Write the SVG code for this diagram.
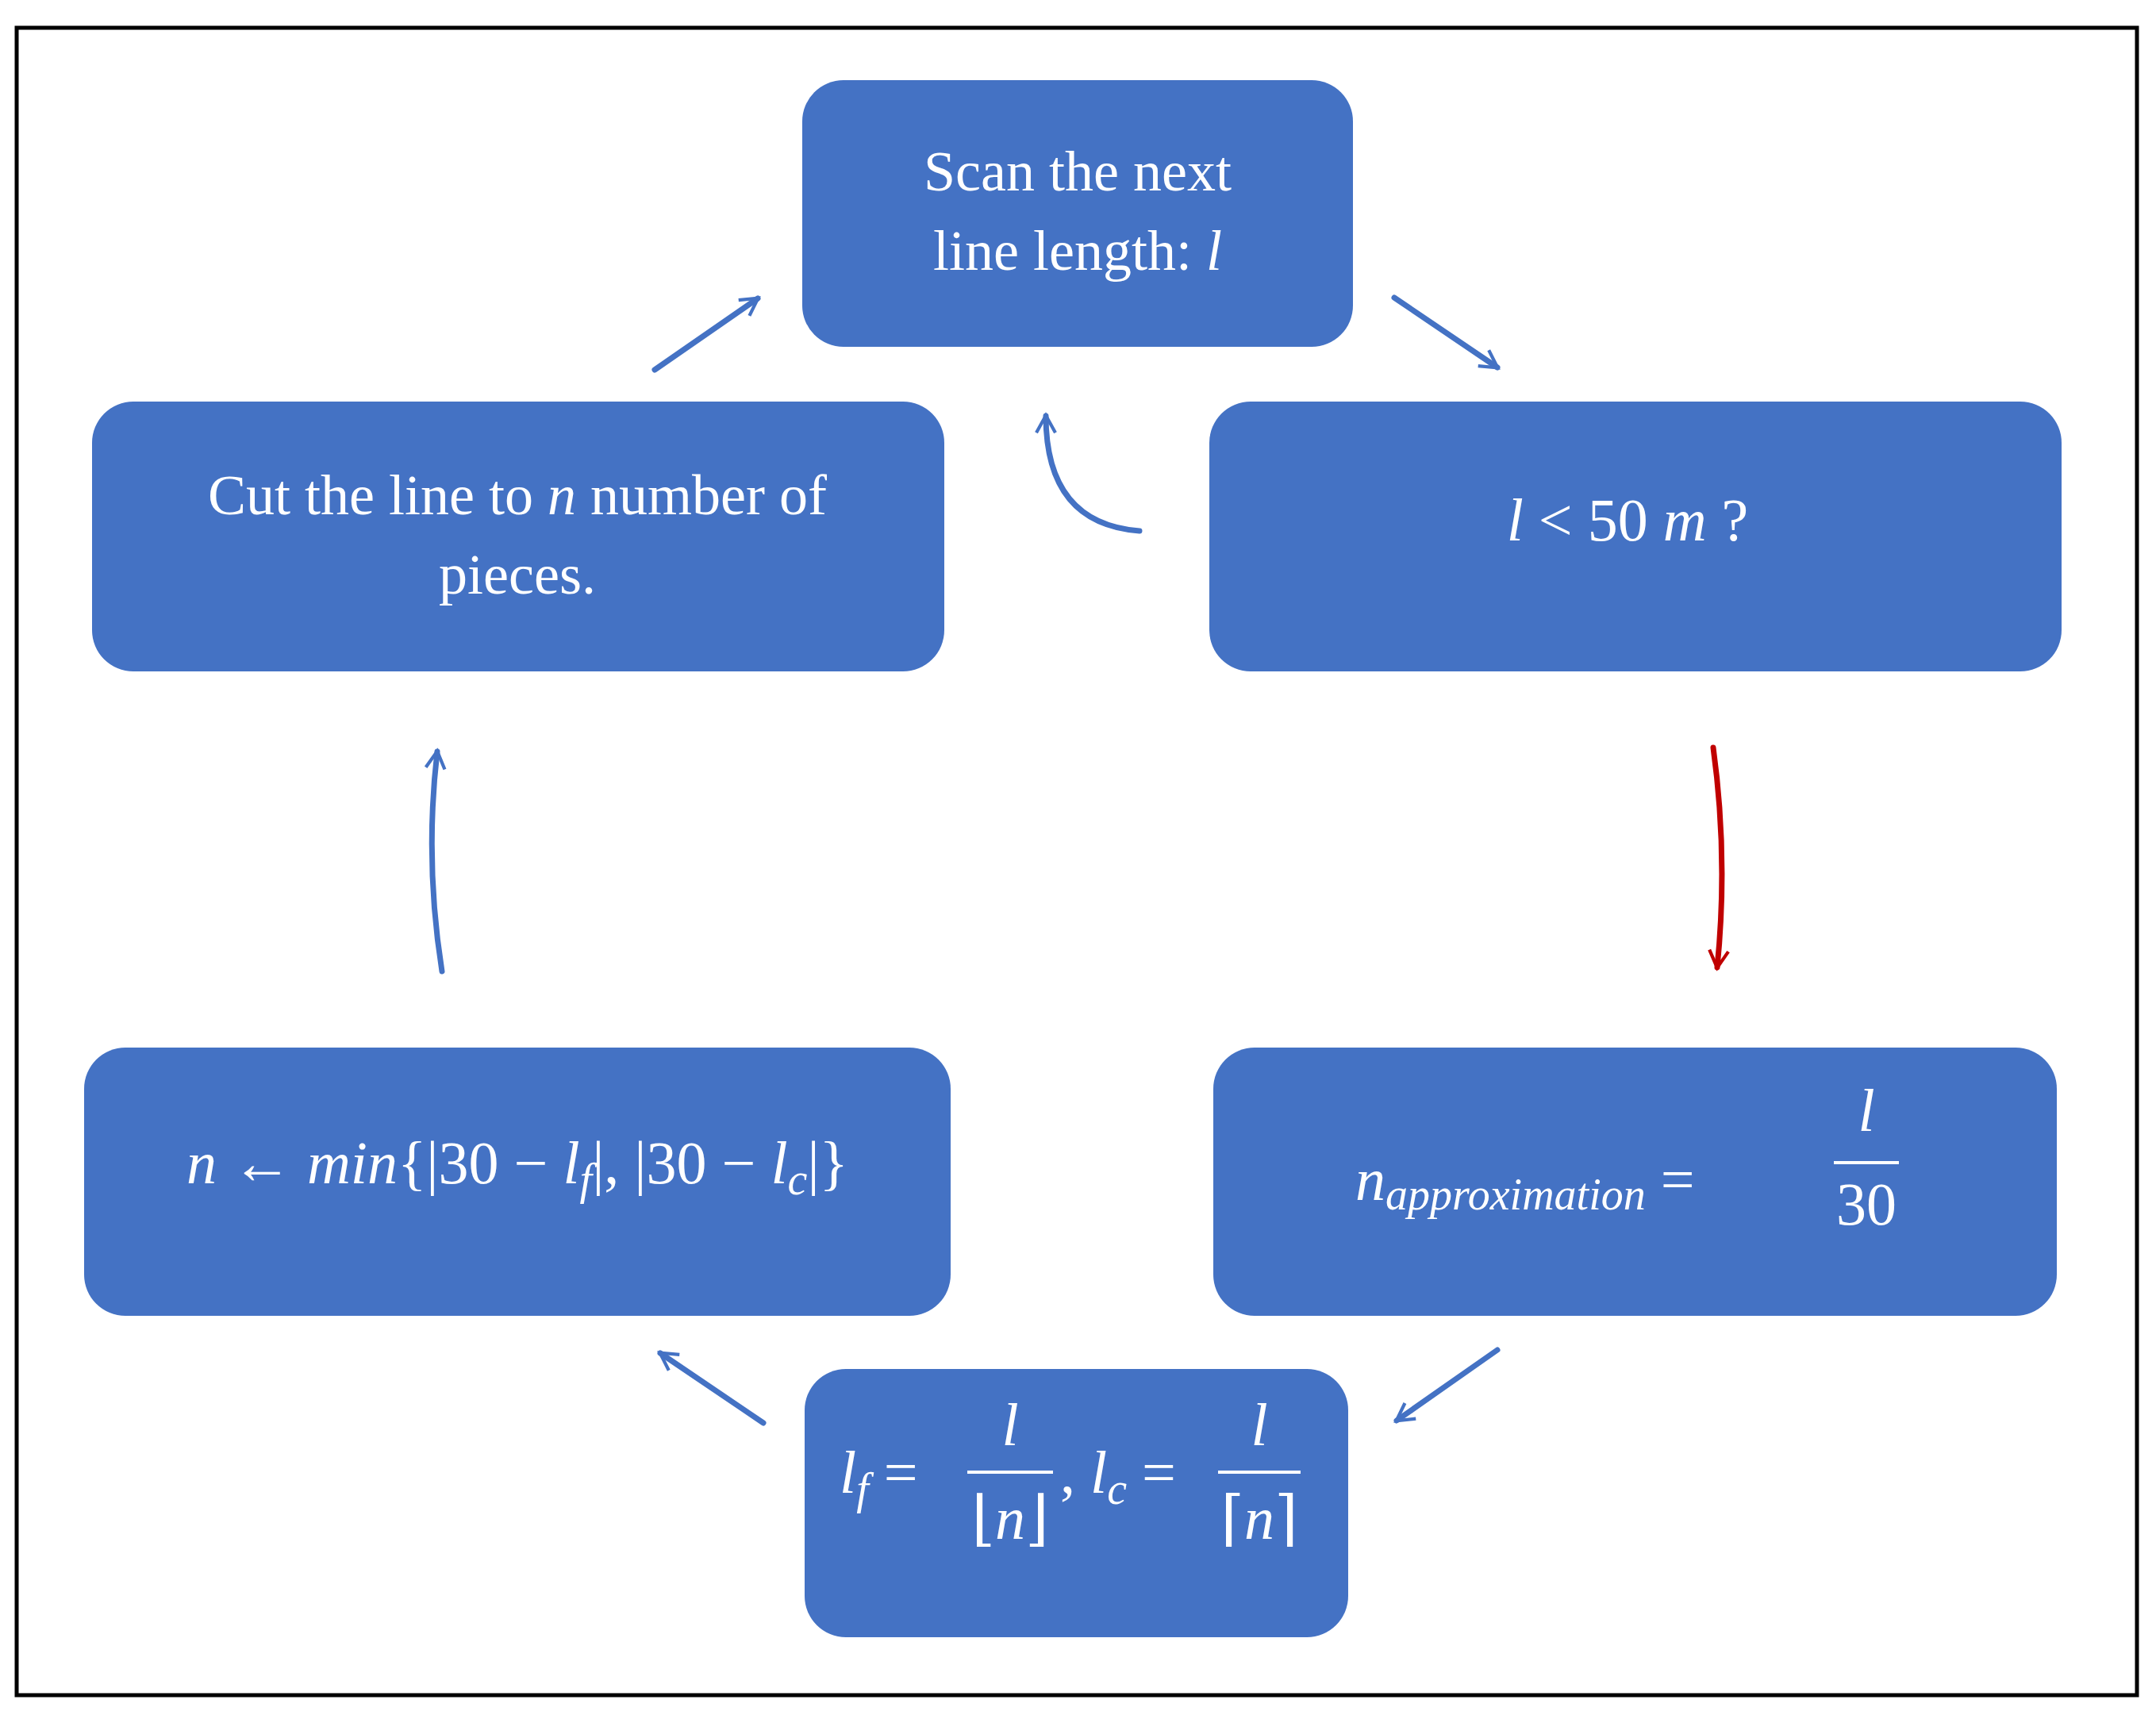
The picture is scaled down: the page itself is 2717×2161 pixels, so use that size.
<svg xmlns="http://www.w3.org/2000/svg" width="2717" height="2161" viewBox="0 0 2717 2161">
<style>
.box{fill:#4472C4}
.t{font-family:"Liberation Serif","DejaVu Serif",serif;fill:#fff;font-size:72px}
.m{font-family:"Liberation Serif","DejaVu Serif",serif;fill:#fff;font-size:76px}
.i{font-style:italic}
.c{fill:none;stroke:#4472C4;stroke-width:7;stroke-linecap:round}
.r{stroke:#C00000}
</style>
<defs>
<marker id="a" viewBox="0 0 20 20" refX="17" refY="10" markerWidth="8" markerHeight="8" markerUnits="userSpaceOnUse" orient="auto" style="overflow:visible">
<path d="M0,0 L18,10 L0,20" fill="none" stroke="#4472C4" stroke-width="3.5" transform="scale(3)" transform-origin="18 10"/>
</marker>
<marker id="ar" viewBox="0 0 20 20" refX="17" refY="10" markerWidth="8" markerHeight="8" markerUnits="userSpaceOnUse" orient="auto" style="overflow:visible">
<path d="M0,0 L18,10 L0,20" fill="none" stroke="#C00000" stroke-width="3.5" transform="scale(3)" transform-origin="18 10"/>
</marker>
</defs>
<rect x="21" y="35" width="2672" height="2101" fill="#fff" stroke="#000" stroke-width="5"/>
<g id="n1"><rect class="box" x="1011" y="101" width="694" height="336" rx="52"/>
<text class="t" x="1358" y="240" text-anchor="middle">Scan the next</text>
<text class="t" x="1358" y="340" text-anchor="middle">line length: <tspan class="i">l</tspan></text></g>
<g id="n2"><rect class="box" x="1524" y="506" width="1074" height="340" rx="52"/>
<text class="m" x="2051" y="681" text-anchor="middle"><tspan class="i">l</tspan> &lt; 50 <tspan class="i">m</tspan> ?</text></g>
<g id="n3"><rect class="box" x="1529" y="1320" width="1063" height="338" rx="52"/>
<text class="m" x="1708" y="1512"><tspan class="i">n</tspan><tspan class="i" font-size="56" dy="12">approximation</tspan><tspan dy="-12"> =</tspan></text>
<line x1="2311" y1="1465" x2="2393" y2="1465" stroke="#fff" stroke-width="4"/>
<text class="m i" x="2352" y="1425" text-anchor="middle">l</text>
<text class="m" x="2352" y="1543" text-anchor="middle">30</text></g>
<g id="n4"><rect class="box" x="1014" y="1725" width="685" height="338" rx="52"/>
<text class="m" x="1058" y="1881"><tspan class="i">l</tspan><tspan class="i" font-size="56" dy="14">f</tspan><tspan dy="-14"> =</tspan></text>
<line x1="1219" y1="1855" x2="1327" y2="1855" stroke="#fff" stroke-width="4"/>
<text class="m i" x="1273" y="1821" text-anchor="middle">l</text>
<text class="m" x="1273" y="1939" text-anchor="middle">⌊<tspan class="i">n</tspan>⌋</text>
<text class="m" x="1336" y="1881">, <tspan class="i">l</tspan><tspan class="i" font-size="56" dy="14">c</tspan><tspan dy="-14"> =</tspan></text>
<line x1="1535" y1="1855" x2="1639" y2="1855" stroke="#fff" stroke-width="4"/>
<text class="m i" x="1587" y="1821" text-anchor="middle">l</text>
<text class="m" x="1587" y="1939" text-anchor="middle">⌈<tspan class="i">n</tspan>⌉</text></g>
<g id="n5"><rect class="box" x="106" y="1320" width="1092" height="338" rx="52"/>
<text class="m" x="652" y="1491" text-anchor="middle"><tspan class="i">n</tspan> ← <tspan class="i">min</tspan>{|30 − <tspan class="i">l</tspan><tspan class="i" font-size="56" dy="14">f</tspan><tspan dy="-14">|, |30 − </tspan><tspan class="i">l</tspan><tspan class="i" font-size="56" dy="14">c</tspan><tspan dy="-14">|}</tspan></text></g>
<g id="n6"><rect class="box" x="116" y="506" width="1074" height="340" rx="52"/>
<text class="t" x="652" y="648" text-anchor="middle">Cut the line to <tspan class="i">n</tspan> number of</text>
<text class="t" x="652" y="748" text-anchor="middle">pieces.</text></g>
<g id="connectors">
<path class="c" d="M1757,375 L1887,463" marker-end="url(#a)"/>
<path class="c" d="M1436,669 Q1318,660 1318,524" marker-end="url(#a)"/>
<path class="c r" d="M2159,942 Q2178,1080 2164,1219" marker-end="url(#ar)"/>
<path class="c" d="M1887,1701 L1760,1790" marker-end="url(#a)"/>
<path class="c" d="M962,1793 L832,1705" marker-end="url(#a)"/>
<path class="c" d="M557,1224 Q535,1085 551,947" marker-end="url(#a)"/>
<path class="c" d="M825,466 L955,376" marker-end="url(#a)"/>
</g>
</svg>
